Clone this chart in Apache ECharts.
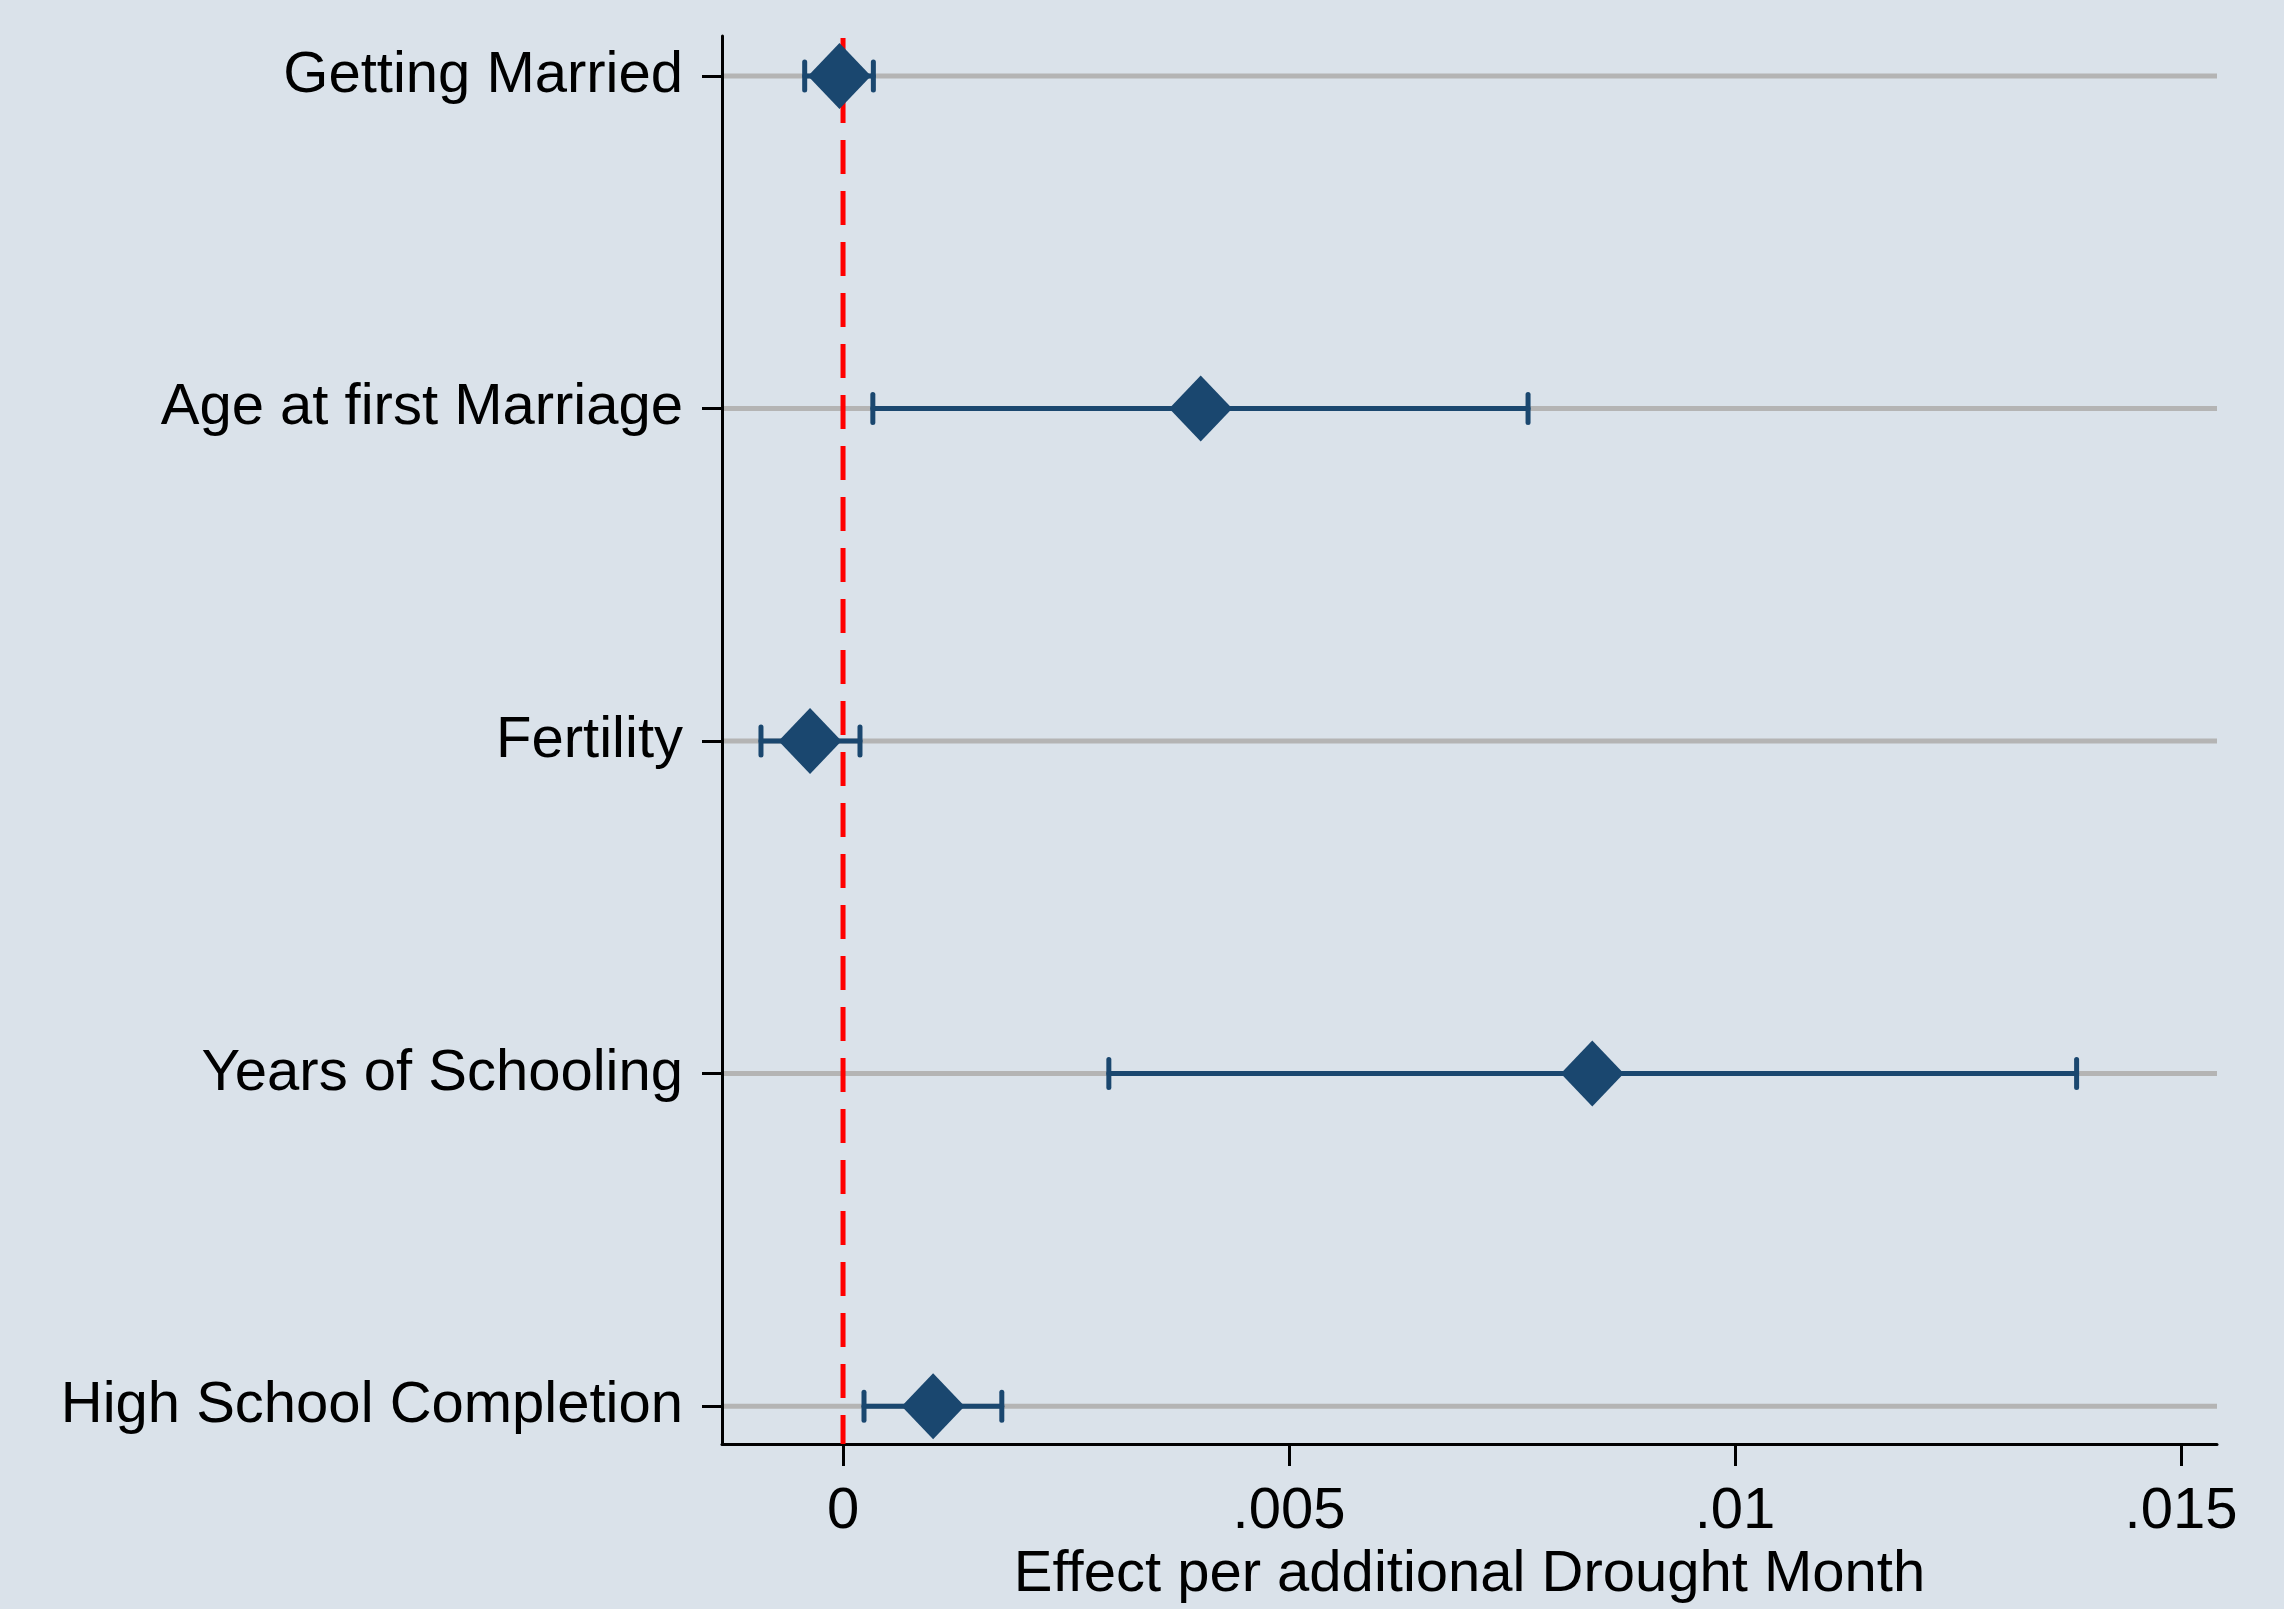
<!DOCTYPE html>
<html>
<head>
<meta charset="utf-8">
<script src="https://cdn.jsdelivr.net/npm/echarts@6/dist/echarts.min.js"></script>
<style>
html,body{margin:0;padding:0;background:#dae2ea;}
#chart{width:2284px;height:1609px;}
</style>
</head>
<body>
<div id="chart"></div>
<script>
// Outcomes, bottom (position 1) to top (position 5)
const categories = ["High School Completion", "Years of Schooling", "Fertility", "Age at first Marriage", "Getting Married"];
const positions = [1, 2, 3, 4, 5];
const estimates = [0.00101, 0.00840, -0.00037, 0.00401, -0.00004];
const ciLower = [0.000235, 0.00298, -0.00092, 0.000334, -0.00043];
const ciUpper = [0.00178, 0.01383, 0.00019, 0.00768, 0.00034];
const xTickValues = [0, 0.005, 0.01, 0.015];
const xTickLabels = ["0", ".005", ".01", ".015"];
const zeroLine = [0];

const NAVY = '#1a476f';
const FONT = '"Liberation Sans", Arial, sans-serif';

const chart = echarts.init(document.getElementById('chart'));

const pointData = estimates.map((v, i) => [v, positions[i]]);
const ciData = ciLower.map((lo, i) => [lo, ciUpper[i], positions[i]]);
const rowData = positions.map(p => [p]);

chart.setOption({
  backgroundColor: '#dae2ea',
  animation: false,
  grid: { left: 722, right: 67, top: 36, bottom: 160 },
  xAxis: {
    type: 'value',
    min: -0.001357,
    max: 0.015404,
    splitLine: { show: false },
    axisLine: { show: true, onZero: false, lineStyle: { color: '#000', width: 3 } },
    axisTick: { show: true, customValues: xTickValues, length: 22, lineStyle: { color: '#000', width: 3 } },
    axisLabel: {
      customValues: xTickValues,
      margin: 39,
      fontSize: 58,
      fontFamily: FONT,
      color: '#000',
      formatter: v => { const i = xTickValues.findIndex(t => Math.abs(t - v) < 1e-9); return i >= 0 ? xTickLabels[i] : ''; }
    },
    name: 'Effect per additional Drought Month',
    nameLocation: 'middle',
    nameGap: 98,
    nameTextStyle: { fontSize: 58, fontFamily: FONT, color: '#000' }
  },
  yAxis: {
    type: 'value',
    min: 0.886,
    max: 5.12,
    splitLine: { show: false },
    axisLine: { show: true, onZero: false, lineStyle: { color: '#000', width: 3 } },
    axisTick: { show: true, customValues: positions, length: 20, lineStyle: { color: '#000', width: 3 } },
    axisLabel: {
      customValues: positions,
      margin: 39,
      fontSize: 58,
      fontFamily: FONT,
      color: '#000',
      formatter: v => { const i = positions.indexOf(Math.round(v)); return i >= 0 ? categories[i] : ''; }
    }
  },
  series: [
    {
      // gray row lines
      type: 'custom',
      z: 1,
      data: rowData,
      encode: { y: 0 },
      renderItem: (params, api) => {
        const cs = params.coordSys;
        const y = api.coord([0, api.value(0)])[1];
        return {
          type: 'line',
          shape: { x1: cs.x + 2, y1: y, x2: cs.x + cs.width, y2: y },
          style: { stroke: '#b4b4b4', lineWidth: 5 }
        };
      }
    },
    {
      // red dashed zero line
      type: 'custom',
      z: 2,
      data: zeroLine.map(v => [v]),
      encode: { x: 0 },
      renderItem: (params, api) => {
        const cs = params.coordSys;
        const x = api.coord([api.value(0), 1])[0];
        return {
          type: 'line',
          shape: { x1: x, y1: cs.y + 2, x2: x, y2: cs.y + cs.height },
          style: { stroke: '#ff0000', lineWidth: 5, lineDash: [34, 17] }
        };
      }
    },
    {
      // confidence intervals with caps
      type: 'custom',
      z: 3,
      data: ciData,
      encode: { x: [0, 1], y: 2 },
      renderItem: (params, api) => {
        const p1 = api.coord([api.value(0), api.value(2)]);
        const p2 = api.coord([api.value(1), api.value(2)]);
        const h = 14;
        const st = { stroke: NAVY, lineWidth: 5, lineCap: 'round' };
        return {
          type: 'group',
          children: [
            { type: 'line', shape: { x1: p1[0], y1: p1[1], x2: p2[0], y2: p2[1] }, style: st },
            { type: 'line', shape: { x1: p1[0], y1: p1[1] - h, x2: p1[0], y2: p1[1] + h }, style: st },
            { type: 'line', shape: { x1: p2[0], y1: p2[1] - h, x2: p2[0], y2: p2[1] + h }, style: st }
          ]
        };
      }
    },
    {
      type: 'scatter',
      z: 4,
      data: pointData,
      symbol: 'diamond',
      symbolSize: [63, 66],
      itemStyle: { color: NAVY, opacity: 1 }
    }
  ]
});
</script>
</body>
</html>
